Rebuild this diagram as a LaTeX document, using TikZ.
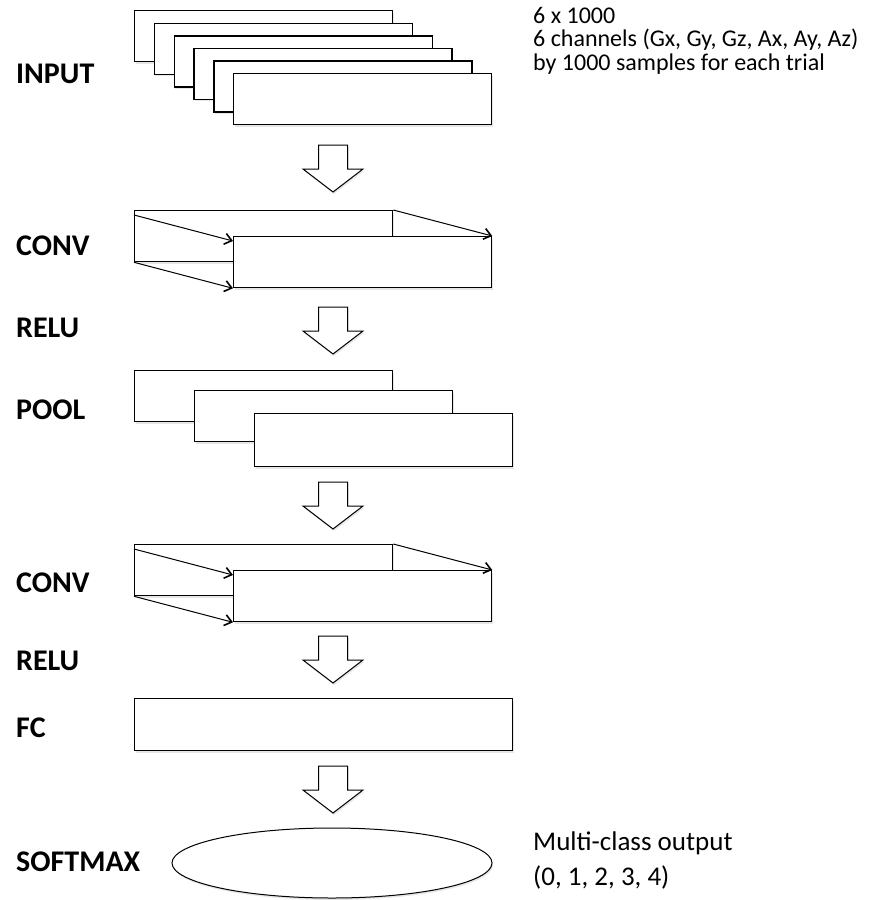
\documentclass[tikz,border=0pt]{standalone}
\usepackage{fontspec}
\setmainfont{Carlito}
\usetikzlibrary{arrows.meta,shadows,shapes.geometric}

\newcommand{\layerwidth}{258pt}
\newcommand{\layerheight}{51pt}

\tikzset{
  layer/.style={draw, fill=white, line width=1.3pt, anchor=north west,
    minimum width=\layerwidth, minimum height=\layerheight, inner sep=0pt,
    drop shadow={shadow xshift=1pt, shadow yshift=-2pt, opacity=0.2}},
  tag/.style={anchor=west, inner sep=0pt, font=\fontsize{30}{32}\selectfont\bfseries},
  note/.style={align=left, inner sep=0pt, font=\fontsize{24}{23.5}\selectfont},
  link/.style={line width=1pt, -{Straight Barb[length=7pt,width=11pt,line width=1.6pt]}},
  flowarrow/.pic={
    \draw[fill=white, line width=1pt, drop shadow={shadow xshift=1pt, shadow yshift=-2pt, opacity=0.2}]
      (-14.5,0) -- (14.5,0) -- (14.5,24) -- (30,24) -- (0,47) -- (-30,24) -- (-14.5,24) -- cycle;
  }
}

\begin{document}
\begin{tikzpicture}[x=1pt, y=-1pt]
  \useasboundingbox (0,0) rectangle (868,900);

  % Layer names on the left
  \node[tag] (t-input) at (16,74) {INPUT};
  \node[tag] (t-conva) at (16,246) {CONV};
  \node[tag] (t-relua) at (16,328) {RELU};
  \node[tag] (t-pool) at (16,410) {POOL};
  \node[tag] (t-convb) at (16,583) {CONV};
  \node[tag] (t-relub) at (16,661) {RELU};
  \node[tag] (t-fc) at (16,728) {FC};
  \node[tag] (t-soft) at (16,862) {SOFTMAX};

  % Input: one sheet per channel
  \foreach \i in {1,...,6}
    \node[layer] (in\i) at ({134+19.8*(\i-1)},{10+12.6*(\i-1)}) {};
  \node[note, anchor=north west] (shape) at (533,7)
    {6 x 1000\\6 channels (Gx, Gy, Gz, Ax, Ay, Az)\\by 1000 samples for each trial};

  \pic at (333,145) {flowarrow};

  % First convolution
  \node[layer] (ca1) at (134,210) {};
  \node[layer] (ca2) at (233,236) {};
  \draw[link] ([yshift=-5pt]ca1.north west) -- ([yshift=-5pt]ca2.north west);
  \draw[link] (ca1.south west) -- (ca2.south west);
  \draw[link] (ca1.north east) -- (ca2.north east);

  \pic at (333,307) {flowarrow};

  % Pooling
  \node[layer] (p1) at (134,370) {};
  \node[layer] (p2) at (194,390) {};
  \node[layer, minimum height=53pt] (p3) at (254,413) {};

  \pic at (333,482) {flowarrow};

  % Second convolution
  \node[layer] (cb1) at (134,544) {};
  \node[layer] (cb2) at (233,570) {};
  \draw[link] ([yshift=-5pt]cb1.north west) -- ([yshift=-5pt]cb2.north west);
  \draw[link] (cb1.south west) -- (cb2.south west);
  \draw[link] (cb1.north east) -- (cb2.north east);

  \pic at (333,636) {flowarrow};

  % Fully connected
  \node[layer, minimum width=378pt, minimum height=52pt] (fc) at (134,698) {};

  \pic at (333,766) {flowarrow};

  % Output
  \node[draw, ellipse, fill=white, line width=1pt, minimum width=320pt, minimum height=70pt,
    drop shadow={shadow xshift=1pt, shadow yshift=-2pt, opacity=0.2}] (soft) at (332,863) {};
  \node[note, font=\fontsize{27}{35}\selectfont, anchor=west] (classes) at (533,860)
    {Multi-class output\\(0, 1, 2, 3, 4)};
\end{tikzpicture}
\end{document}
